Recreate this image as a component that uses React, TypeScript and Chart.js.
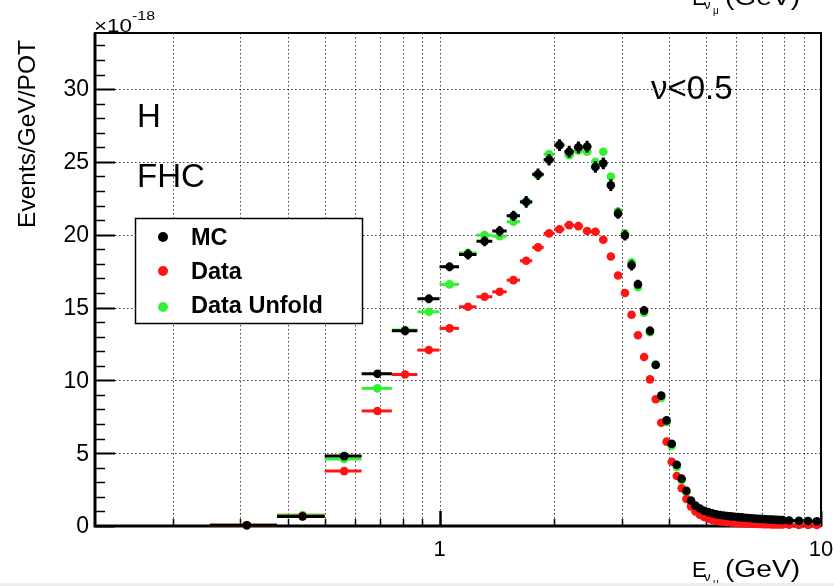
import React, { useEffect, useRef } from "react";
import { Chart, registerables } from "chart.js";

Chart.register(...registerables);

// ---------- data ----------
const binEdges: number[] = [
  0.25, 0.375, 0.5, 0.625, 0.75, 0.875, 1.0, 1.125, 1.25, 1.375, 1.5, 1.625, 1.75, 1.875,
  2.0, 2.125, 2.25, 2.375, 2.5, 2.625, 2.75, 2.875, 3.0, 3.125, 3.25, 3.375, 3.5, 3.625, 3.75, 3.875,
  4.0, 4.125, 4.25, 4.375, 4.5, 4.625, 4.75, 4.875, 5.0, 5.125, 5.25, 5.375, 5.5, 5.625, 5.75, 5.875,
  6.0, 6.125, 6.25, 6.375, 6.5, 6.625, 6.75, 6.875, 7.0, 7.125, 7.25, 7.375, 7.5, 7.625, 7.75, 7.875,
  8.0, 8.5, 9.0, 9.5, 10.0,
];

const mcValues: number[] = [
  0.05, 0.65, 4.8, 10.45, 13.4, 15.6, 17.8, 18.65, 19.55, 20.25,
  21.3, 22.25, 24.15, 25.15, 26.15, 25.7, 26.0, 26.05, 24.65, 24.9,
  23.4, 21.45, 19.95, 17.9, 16.6, 14.8, 13.4, 11.05, 8.95, 7.25,
  5.65, 4.2, 3.25, 2.42, 1.75, 1.4, 1.2, 1.05, 0.95, 0.87,
  0.81, 0.76, 0.72, 0.69, 0.66, 0.63, 0.61, 0.59, 0.57, 0.55,
  0.53, 0.52, 0.5, 0.49, 0.48, 0.46, 0.45, 0.44, 0.43, 0.42,
  0.41, 0.4, 0.38, 0.36, 0.34, 0.33,
];

const mcErrors: number[] = [
  0.02, 0.1, 0.2, 0.25, 0.3, 0.3, 0.3, 0.35, 0.35, 0.35,
  0.35, 0.4, 0.4, 0.4, 0.4, 0.4, 0.4, 0.4, 0.4, 0.4,
  0.4, 0.35, 0.35, 0.35, 0.3, 0.3, 0.3, 0.25, 0.25, 0.2,
  0.2, 0.15, 0.15, 0.1, 0.1, 0.08, 0.08, 0.06, 0.06, 0.06,
  0.05, 0.05, 0.05, 0.05, 0.05, 0.05, 0.05, 0.05, 0.05, 0.05,
  0.05, 0.05, 0.05, 0.05, 0.05, 0.05, 0.05, 0.05, 0.05, 0.05,
  0.05, 0.05, 0.05, 0.05, 0.05, 0.05,
];

const dataValues: number[] = [
  0.05, 0.68, 3.77, 7.9, 10.4, 12.08, 13.57, 15.05, 15.74, 16.08,
  16.88, 18.21, 19.13, 20.09, 20.38, 20.66, 20.59, 20.25, 20.2, 19.65,
  18.5, 17.2, 16.0, 14.5, 13.1, 11.6, 10.07, 8.7, 7.09, 5.79,
  4.41, 3.43, 2.59, 1.85, 1.35, 1.0, 0.78, 0.62, 0.5, 0.42,
  0.36, 0.32, 0.29, 0.26, 0.24, 0.22, 0.2, 0.19, 0.18, 0.17,
  0.16, 0.15, 0.14, 0.14, 0.13, 0.12, 0.12, 0.11, 0.11, 0.1,
  0.1, 0.1, 0.09, 0.08, 0.08, 0.07,
];

const unfoldValues: number[] = [
  0.05, 0.75, 4.6, 9.45, 13.45, 14.71, 16.59, 18.75, 19.97, 19.9,
  20.89, 22.3, 24.1, 25.53, 26.2, 25.46, 25.76, 25.7, 25.0, 25.7,
  24.0, 21.6, 20.1, 18.1, 16.4, 14.65, 13.3, 11.1, 8.8, 7.15,
  5.5, 4.05, 3.15, 2.3, 1.65, 1.3, 1.1, 0.97, 0.88, 0.8,
  0.74, 0.7, 0.66, 0.63, 0.6, 0.58, 0.56, 0.54, 0.52, 0.5,
  0.49, 0.48, 0.46, 0.45, 0.44, 0.43, 0.42, 0.41, 0.4, 0.39,
  0.38, 0.37, 0.35, 0.33, 0.32, 0.3,
];

const seriesNames: string[] = ["MC", "Data", "Data Unfold"];

const xGridValues: number[] = [0.2, 0.3, 0.4, 0.5, 0.6, 0.7, 0.8, 0.9, 1, 2, 3, 4, 5, 6, 7, 8, 9];
const xTickLabels: number[] = [1, 10];
const yTickLabels: number[] = [0, 5, 10, 15, 20, 25, 30];
const yMinorStep = 1;

const X_MIN = 0.125;
const X_MAX = 10;
const Y_MIN = 0;
const Y_MAX = 33.85;

// ---------- styles ----------
const FONT = '"Liberation Sans", Arial, Helvetica, sans-serif';
const COLORS = ["#000000", "#ff1414", "#33f033"];

function drawText(
  ctx: CanvasRenderingContext2D,
  s: string,
  x: number,
  y: number,
  size: number,
  opts: { bold?: boolean; align?: CanvasTextAlign; baseline?: CanvasTextBaseline; width?: number } = {}
) {
  ctx.font = `${opts.bold ? "bold " : ""}${size}px ${FONT}`;
  ctx.textAlign = opts.align || "left";
  ctx.textBaseline = opts.baseline || "alphabetic";
  ctx.fillStyle = "#000";
  if (opts.width) {
    const w = ctx.measureText(s).width;
    ctx.save();
    ctx.translate(x, y);
    ctx.scale(opts.width / w, 1);
    ctx.fillText(s, 0, 0);
    ctx.restore();
  } else {
    ctx.fillText(s, x, y);
  }
}

function drawXTitle(ctx: CanvasRenderingContext2D, dy: number) {
  drawText(ctx, "E", 692, 577 + dy, 22);
  drawText(ctx, "ν", 704, 581 + dy, 13);
  drawText(ctx, "μ", 713, 586 + dy, 10);
  drawText(ctx, "(GeV)", 725, 577 + dy, 23, { width: 75 });
}

const rootPlugin = {
  id: "rootStyle",
  beforeDatasetsDraw(chart: any) {
    const { ctx, chartArea: a } = chart;
    const xs = chart.scales.x;
    const ys = chart.scales.y;
    ctx.save();
    // dotted grid
    ctx.strokeStyle = "rgba(0,0,0,0.75)";
    ctx.lineWidth = 1;
    ctx.setLineDash([1.5, 2.5]);
    ctx.beginPath();
    for (const v of xGridValues) {
      const px = Math.round(xs.getPixelForValue(v)) + 0.5;
      ctx.moveTo(px, a.top);
      ctx.lineTo(px, a.bottom);
    }
    for (const v of yTickLabels) {
      if (v <= Y_MIN) continue;
      const py = Math.round(ys.getPixelForValue(v)) + 0.5;
      ctx.moveTo(a.left, py);
      ctx.lineTo(a.right, py);
    }
    ctx.stroke();
    ctx.setLineDash([]);

    // y ticks
    ctx.strokeStyle = "#000";
    for (let v = Y_MIN; v <= Y_MAX; v += yMinorStep) {
      const major = yTickLabels.includes(v);
      const py = Math.round(ys.getPixelForValue(v)) + 0.5;
      ctx.lineWidth = major ? 2 : 1.5;
      ctx.beginPath();
      ctx.moveTo(a.left, py);
      ctx.lineTo(a.left + (major ? 20 : 10), py);
      ctx.stroke();
    }
    // x ticks
    for (const v of xGridValues.concat(xTickLabels)) {
      const major = xTickLabels.includes(v);
      const px = Math.round(xs.getPixelForValue(v)) + 0.5;
      ctx.lineWidth = major ? 2 : 1.5;
      ctx.beginPath();
      ctx.moveTo(px, a.bottom);
      ctx.lineTo(px, a.bottom - (major ? 15 : 7));
      ctx.stroke();
    }
    // frame
    ctx.lineWidth = 2;
    ctx.strokeRect(a.left, a.top, a.right - a.left, a.bottom - a.top);
    ctx.lineWidth = 3;
    ctx.beginPath();
    ctx.moveTo(a.left, a.top);
    ctx.lineTo(a.left, a.bottom);
    ctx.lineTo(a.right, a.bottom);
    ctx.stroke();
    ctx.restore();
  },
  beforeDatasetDraw(chart: any, args: any) {
    const ds = chart.data.datasets[args.index];
    const { ctx } = chart;
    const xs = chart.scales.x;
    const ys = chart.scales.y;
    ctx.save();
    ctx.strokeStyle = ds.borderColor;
    ctx.lineWidth = 3;
    ctx.lineCap = "butt";
    const vals: number[] = ds.values;
    const errs: number[] | undefined = ds.yErr;
    for (let i = 0; i < vals.length; i++) {
      const py = ys.getPixelForValue(vals[i]);
      const x1 = xs.getPixelForValue(binEdges[i]);
      const x2 = xs.getPixelForValue(binEdges[i + 1]);
      ctx.beginPath();
      ctx.moveTo(x1, py);
      ctx.lineTo(x2, py);
      if (errs) {
        const pc = xs.getPixelForValue((binEdges[i] + binEdges[i + 1]) / 2);
        ctx.moveTo(pc, ys.getPixelForValue(vals[i] + errs[i]));
        ctx.lineTo(pc, ys.getPixelForValue(Math.max(0, vals[i] - errs[i])));
      }
      ctx.stroke();
    }
    ctx.restore();
  },
  afterDraw(chart: any) {
    const { ctx } = chart;
    const xs = chart.scales.x;
    const ys = chart.scales.y;
    ctx.save();
    // y tick labels
    for (const v of yTickLabels) {
      drawText(ctx, String(v), 89, ys.getPixelForValue(v) + 1, 23, { align: "right", baseline: "middle" });
    }
    // x tick labels
    for (const v of xTickLabels) {
      drawText(ctx, String(v), xs.getPixelForValue(v), 556, 22, { align: "center" });
    }
    // exponent
    drawText(ctx, "×10", 94, 32, 18, { width: 38 });
    drawText(ctx, "-18", 132, 20, 13, { width: 23 });
    // y title
    ctx.save();
    ctx.translate(35, 134);
    ctx.rotate(-Math.PI / 2);
    drawText(ctx, "Events/GeV/POT", 0, 0, 24.5, { align: "center" });
    ctx.restore();
    // x title and the clipped one at top
    drawXTitle(ctx, 0);
    drawXTitle(ctx, -572);
    // annotations
    drawText(ctx, "H", 137, 127, 33);
    drawText(ctx, "FHC", 137, 187, 33);
    drawText(ctx, "ν<0.5", 651, 99, 33);
    // legend
    ctx.fillStyle = "#fff";
    ctx.fillRect(135, 218, 227, 105);
    ctx.strokeStyle = "#000";
    ctx.lineWidth = 1.5;
    ctx.strokeRect(135.5, 218.5, 227, 105);
    const ly = [237, 271, 307];
    const lb = [245, 279, 313];
    for (let i = 0; i < seriesNames.length; i++) {
      ctx.fillStyle = COLORS[i];
      ctx.beginPath();
      ctx.arc(163, ly[i], 5, 0, Math.PI * 2);
      ctx.fill();
      drawText(ctx, seriesNames[i], 191, lb[i], 23.5, { bold: true });
    }
    // bottom grey strip
    ctx.fillStyle = "#eeeeee";
    ctx.fillRect(0, 583, 834, 3);
    ctx.restore();
  },
};

export default function App() {
  const ref = useRef<HTMLCanvasElement>(null);
  useEffect(() => {
    document.body.style.margin = "0";
    const centers = binEdges.slice(0, -1).map((lo, i) => (lo + binEdges[i + 1]) / 2);
    const pts = (vals: number[]) => vals.map((v, i) => ({ x: centers[i], y: v }));
    const mk = (i: number, vals: number[], err?: number[]) => ({
      label: seriesNames[i],
      data: pts(vals),
      values: vals,
      yErr: err,
      backgroundColor: COLORS[i],
      borderColor: COLORS[i],
      pointRadius: 4.3,
      pointBorderWidth: 0,
      pointHoverRadius: 4.3,
      showLine: false,
      clip: false,
    });
    const chart = new Chart(ref.current as HTMLCanvasElement, {
      type: "scatter",
      data: {
        datasets: [mk(0, mcValues, mcErrors), mk(1, dataValues), mk(2, unfoldValues)] as any,
      },
      options: {
        responsive: false,
        animation: false,
        devicePixelRatio: 1,
        events: [],
        layout: { padding: { left: 95, top: 33, right: 13, bottom: 60 } },
        scales: {
          x: { type: "logarithmic", min: X_MIN, max: X_MAX, display: false },
          y: { type: "linear", min: Y_MIN, max: Y_MAX, display: false },
        },
        plugins: { legend: { display: false }, tooltip: { enabled: false } },
      },
      plugins: [rootPlugin as any],
    });
    return () => chart.destroy();
  }, []);
  return (
    <div style={{ position: "fixed", left: 0, top: 0, width: 834, height: 586, background: "#fff" }}>
      <canvas ref={ref} width={834} height={586} style={{ width: 834, height: 586, display: "block" }} />
    </div>
  );
}
